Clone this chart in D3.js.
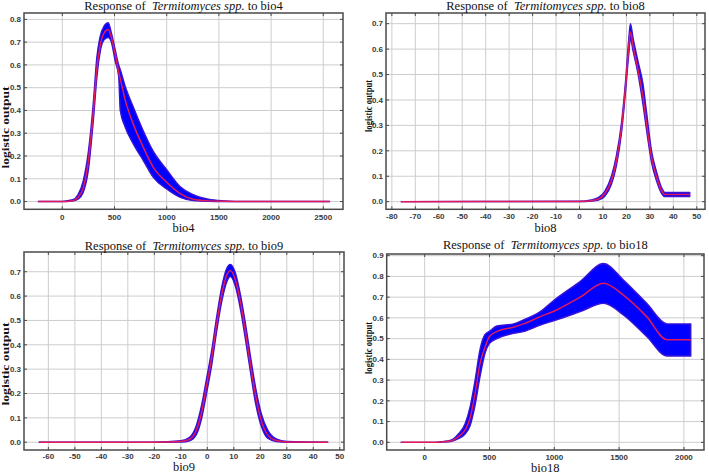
<!DOCTYPE html>
<html>
<head>
<meta charset="utf-8">
<script src="https://cdn.jsdelivr.net/npm/d3@7.9.0/dist/d3.min.js"></script>
<style>
  body { margin: 0; background: #fff; }
  svg { display: block; }
</style>
</head>
<body>
<svg id="chart" width="709" height="475"></svg>
<script>
// ---- data ----
const bio4X     = [-230, 0, 100, 150, 200, 250, 300, 330, 360, 400, 440, 470, 505, 540, 555, 600, 680, 776, 872, 1000, 1130, 1255, 1400, 1550, 1750, 2560];
const bio4Mean  = [0, 0, 0.004, 0.018, 0.06, 0.18, 0.41, 0.58, 0.68, 0.74, 0.755, 0.72, 0.65, 0.57, 0.54, 0.45, 0.34, 0.238, 0.15, 0.085, 0.035, 0.01, 0.003, 0.001, 0, 0];
const bio4Upper = [0, 0.001, 0.008, 0.03, 0.09, 0.22, 0.45, 0.63, 0.72, 0.77, 0.785, 0.74, 0.67, 0.6, 0.58, 0.51, 0.415, 0.31, 0.22, 0.14, 0.065, 0.03, 0.01, 0.003, 0, 0];
const bio4Lower = [0, 0, 0.002, 0.01, 0.04, 0.14, 0.37, 0.54, 0.65, 0.71, 0.72, 0.70, 0.62, 0.55, 0.40, 0.33, 0.253, 0.18, 0.106, 0.055, 0.018, 0.004, 0.001, 0, 0, 0];

const bio8X     = [-76, 0, 5, 8, 10.7, 13.6, 15.7, 17.9, 19.6, 21, 21.7, 22.9, 25, 27.1, 28.6, 30.7, 32.9, 35, 36.4, 47];
const bio8Mean  = [0, 0.001, 0.004, 0.01, 0.03, 0.083, 0.16, 0.29, 0.45, 0.61, 0.667, 0.61, 0.516, 0.41, 0.306, 0.175, 0.096, 0.043, 0.028, 0.028];
const bio8Upper = [0, 0.002, 0.007, 0.016, 0.04, 0.1, 0.18, 0.31, 0.47, 0.64, 0.70, 0.64, 0.55, 0.46, 0.35, 0.2, 0.115, 0.055, 0.036, 0.036];
const bio8Lower = [0, 0, 0.002, 0.006, 0.02, 0.068, 0.14, 0.27, 0.43, 0.58, 0.64, 0.59, 0.5, 0.38, 0.28, 0.155, 0.08, 0.032, 0.02, 0.02];

const bio9X     = [-63.5, -20, -9.9, -6.7, -4.1, -2.2, -0.3, 1.7, 3.6, 5.5, 7.4, 8.7, 10.6, 12.6, 14.5, 16.4, 18.3, 20.3, 22.8, 26, 30, 45.5];
const bio9Mean  = [0, 0, 0.003, 0.012, 0.05, 0.12, 0.23, 0.35, 0.49, 0.61, 0.687, 0.705, 0.666, 0.57, 0.447, 0.31, 0.187, 0.092, 0.03, 0.007, 0.001, 0];
const bio9Upper = [0, 0, 0.006, 0.02, 0.07, 0.15, 0.26, 0.38, 0.52, 0.64, 0.715, 0.73, 0.695, 0.60, 0.48, 0.345, 0.22, 0.12, 0.05, 0.014, 0.003, 0];
const bio9Lower = [0, 0, 0.001, 0.006, 0.032, 0.095, 0.2, 0.32, 0.46, 0.58, 0.66, 0.68, 0.64, 0.54, 0.415, 0.28, 0.155, 0.068, 0.016, 0.003, 0, 0];

const bio18X     = [-183, 80, 131, 208, 260, 312, 350, 389, 428, 466, 500, 557, 685, 762, 891, 1000, 1199, 1380, 1533, 1713, 1870, 2053];
const bio18Mean  = [0, 0, 0.002, 0.008, 0.027, 0.06, 0.116, 0.237, 0.383, 0.46, 0.51, 0.534, 0.555, 0.571, 0.606, 0.633, 0.70, 0.767, 0.71, 0.606, 0.494, 0.494];
const bio18Upper = [0, 0, 0.003, 0.012, 0.04, 0.09, 0.17, 0.30, 0.45, 0.52, 0.535, 0.561, 0.571, 0.59, 0.63, 0.686, 0.775, 0.862, 0.783, 0.67, 0.571, 0.571];
const bio18Lower = [0, 0, 0.001, 0.005, 0.018, 0.04, 0.08, 0.18, 0.32, 0.43, 0.477, 0.50, 0.525, 0.534, 0.565, 0.587, 0.63, 0.67, 0.614, 0.51, 0.416, 0.416];

// tick labels
const bio4XTicks  = [0, 500, 1000, 1500, 2000, 2500];
const bio8XTicks  = [-80, -70, -60, -50, -40, -30, -20, -10, 0, 10, 20, 30, 40, 50];
const bio9XTicks  = [-60, -50, -40, -30, -20, -10, 0, 10, 20, 30, 40, 50];
const bio18XTicks = [0, 500, 1000, 1500, 2000];
const yTicks8 = [0, 0.1, 0.2, 0.3, 0.4, 0.5, 0.6, 0.7, 0.8];
const yTicks7 = [0, 0.1, 0.2, 0.3, 0.4, 0.5, 0.6, 0.7];
const yTicks9 = [0, 0.1, 0.2, 0.3, 0.4, 0.5, 0.6, 0.7, 0.8, 0.9];

// layout of each panel (pixel frame + visible domain)
const panels = [
  { v: 'bio4', x: bio4X, mean: bio4Mean, up: bio4Upper, lo: bio4Lower, xt: bio4XTicks, yt: yTicks8,
    l: 24, t: 13, r: 343, b: 209.3, xd: [-367, 2689], yd: [-0.034, 0.828],
    titleY: 9.5, tickDy: 10.7, labDy: 22.8, ylx: 5, yly: 127.5, ylLen: 82 },
  { v: 'bio8', x: bio8X, mean: bio8Mean, up: bio8Upper, lo: bio8Lower, xt: bio8XTicks, yt: yTicks7,
    l: 386, t: 13, r: 705, b: 209.3, xd: [-82.5, 53.5], yd: [-0.03, 0.742],
    titleY: 9.5, tickDy: 9.5, labDy: 22.5, ylx: 368, yly: 106, ylLen: 52 },
  { v: 'bio9', x: bio9X, mean: bio9Mean, up: bio9Upper, lo: bio9Lower, xt: bio9XTicks, yt: yTicks7,
    l: 24, t: 252, r: 344, b: 450, xd: [-69.2, 51.6], yd: [-0.032, 0.781],
    titleY: 250, tickDy: 8.5, labDy: 21, ylx: 5, yly: 364, ylLen: 83 },
  { v: 'bio18', x: bio18X, mean: bio18Mean, up: bio18Upper, lo: bio18Lower, xt: bio18XTicks, yt: yTicks9,
    l: 386.7, t: 254, r: 704, b: 450, xd: [-293, 2155], yd: [-0.037, 0.908],
    titleY: 248.7, tickDy: 10, labDy: 21.8, ylx: 368, yly: 348, ylLen: 52 }
];

const svg = d3.select('#chart');
const serif = "'Liberation Serif', 'Times New Roman', serif";
const sans = "'Liberation Sans', Arial, sans-serif";

panels.forEach(p => drawPanel(p));

function drawPanel(p) {
  const x = d3.scaleLinear().domain(p.xd).range([p.l, p.r]);
  const y = d3.scaleLinear().domain(p.yd).range([p.b, p.t]);
  const g = svg.append('g');

  // grid
  g.selectAll('.gx').data(p.xt).join('line')
    .attr('x1', d => x(d)).attr('x2', d => x(d))
    .attr('y1', p.t).attr('y2', p.b)
    .attr('stroke', '#cdcdcd').attr('stroke-width', 1);
  g.selectAll('.gy').data(p.yt).join('line')
    .attr('x1', p.l).attr('x2', p.r)
    .attr('y1', d => y(d)).attr('y2', d => y(d))
    .attr('stroke', '#cdcdcd').attr('stroke-width', 1);

  // band + mean curve
  const pts = p.x.map((xv, i) => ({ x: xv, m: p.mean[i], u: p.up[i], lo: p.lo[i] }));
  const area = d3.area().x(d => x(d.x)).y0(d => y(d.lo)).y1(d => y(d.u)).curve(d3.curveMonotoneX);
  const line = d3.line().x(d => x(d.x)).y(d => y(d.m)).curve(d3.curveMonotoneX);
  g.append('path').datum(pts).attr('d', area)
    .attr('fill', '#0000ff').attr('stroke', '#3a14d6').attr('stroke-width', 1.4)
    .attr('stroke-linejoin', 'round');
  g.append('path').datum(pts).attr('d', line)
    .attr('fill', 'none').attr('stroke', '#e3195a').attr('stroke-width', 1.5);

  // frame and inside ticks
  g.append('rect').attr('x', p.l).attr('y', p.t)
    .attr('width', p.r - p.l).attr('height', p.b - p.t)
    .attr('fill', 'none').attr('stroke', '#4a4a4a').attr('stroke-width', 1.5);
  const tk = 3;
  p.xt.forEach(d => {
    g.append('line').attr('x1', x(d)).attr('x2', x(d)).attr('y1', p.b).attr('y2', p.b - tk)
      .attr('stroke', '#4a4a4a');
    g.append('line').attr('x1', x(d)).attr('x2', x(d)).attr('y1', p.t).attr('y2', p.t + tk)
      .attr('stroke', '#4a4a4a');
  });
  p.yt.forEach(d => {
    g.append('line').attr('x1', p.l).attr('x2', p.l + tk).attr('y1', y(d)).attr('y2', y(d))
      .attr('stroke', '#4a4a4a');
    g.append('line').attr('x1', p.r).attr('x2', p.r - tk).attr('y1', y(d)).attr('y2', y(d))
      .attr('stroke', '#4a4a4a');
  });

  // tick labels
  g.selectAll('.xl').data(p.xt).join('text')
    .attr('x', d => x(d)).attr('y', p.b + p.tickDy)
    .attr('text-anchor', 'middle')
    .style('font-family', sans).style('font-size', '8px').style('font-weight', 'bold')
    .attr('fill', '#3a3a3a')
    .text(d => d);
  g.selectAll('.yl').data(p.yt).join('text')
    .attr('x', p.l - 3).attr('y', d => y(d)).attr('dy', '0.35em')
    .attr('text-anchor', 'end')
    .style('font-family', sans).style('font-size', '8px').style('font-weight', 'bold')
    .attr('fill', '#3a3a3a')
    .text(d => d.toFixed(1));

  // title
  const title = g.append('text')
    .attr('x', (p.l + p.r) / 2).attr('y', p.titleY)
    .attr('text-anchor', 'middle')
    .style('font-family', serif).style('font-size', '12.5px').attr('fill', '#111');
  title.append('tspan').text('Response of\u00a0\u00a0');
  title.append('tspan').style('font-style', 'italic').text('Termitomyces spp.');
  title.append('tspan').text(' to ' + p.v);

  // axis labels
  g.append('text')
    .attr('x', (p.l + p.r) / 2).attr('y', p.b + p.labDy)
    .attr('text-anchor', 'middle')
    .style('font-family', serif).style('font-size', '12.5px').attr('fill', '#111')
    .text(p.v);
  g.append('text')
    .attr('transform', `translate(${p.ylx},${p.yly}) rotate(-90)`)
    .attr('text-anchor', 'middle').attr('dy', '0.35em')
    .attr('textLength', p.ylLen).attr('lengthAdjust', 'spacingAndGlyphs')
    .style('font-family', serif).style('font-size', '10px').style('font-weight', 'bold')
    .attr('fill', '#111')
    .text('logistic output');
}
</script>
</body>
</html>
